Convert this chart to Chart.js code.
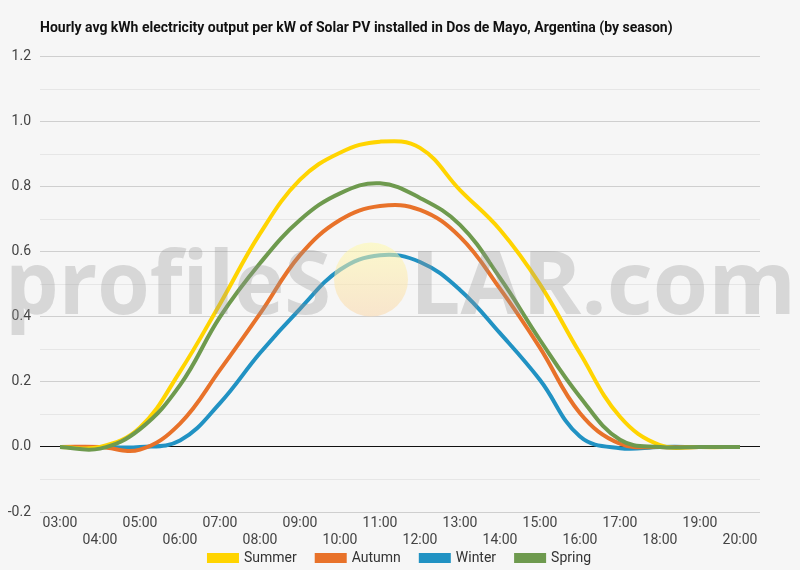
<!DOCTYPE html>
<html>
<head>
<meta charset="utf-8">
<script src="https://cdn.jsdelivr.net/npm/chart.js@4.4.1/dist/chart.umd.min.js"></script>
<style>
html,body{margin:0;padding:0;background:#f6f6f6;}
#wrap{width:800px;height:570px;position:relative;}
</style>
</head>
<body>
<div id="wrap"><canvas id="c" width="800" height="570"></canvas></div>
<script>
const hours = ["03:00","04:00","05:00","06:00","07:00","08:00","09:00","10:00","11:00","12:00","13:00","14:00","15:00","16:00","17:00","18:00","19:00","20:00"];
const summer = [0, 0, 0.06, 0.232, 0.44, 0.656, 0.822, 0.905, 0.939, 0.92, 0.79, 0.668, 0.5, 0.288, 0.093, 0.006, 0, 0];
const autumn = [0, 0, -0.008, 0.072, 0.237, 0.41, 0.59, 0.698, 0.741, 0.729, 0.646, 0.487, 0.305, 0.104, 0.01, 0, 0, 0];
const winter = [0, 0, 0, 0.02, 0.135, 0.289, 0.425, 0.545, 0.59, 0.569, 0.483, 0.35, 0.206, 0.032, -0.004, 0, 0, 0];
const spring = [0, -0.005, 0.055, 0.19, 0.40, 0.565, 0.698, 0.78, 0.811, 0.766, 0.683, 0.52, 0.329, 0.154, 0.022, 0, 0, 0];
const seriesNames = ["Summer","Autumn","Winter","Spring"];
const seriesColors = ["#FFD400","#E8722A","#2192C3","#6E9A4E"];
const titleText = "Hourly avg kWh electricity output per kW of Solar PV installed in Dos de Mayo, Argentina (by season)";

const bgPlugin = {
  id: 'bg',
  beforeDraw(chart) {
    const ctx = chart.ctx;
    ctx.save();
    ctx.fillStyle = '#f6f6f6';
    ctx.fillRect(0, 0, chart.width, chart.height);
    ctx.restore();
  }
};

// move the legend up a little so it sits just under the two rows of hour labels
const legendShift = {
  id: 'legendShift',
  afterLayout(chart) {
    const lg = chart.legend;
    if (lg) {
      lg.top -= 18;
      lg.bottom = chart.height;
      lg.height = lg.bottom - lg.top;
    }
  }
};

function fitText(ctx, text, x0, x1, base) {
  const w = ctx.measureText(text).width;
  const sx = (x1 - x0) / w;
  ctx.save();
  ctx.translate(x0, base);
  ctx.scale(sx, 1);
  ctx.textAlign = 'left';
  ctx.fillText(text, 0, 0);
  ctx.restore();
}

const watermark = {
  id: 'watermark',
  afterDatasetsDraw(chart) {
    const ctx = chart.ctx;
    const y = chart.scales.y;
    const base = y.getPixelForValue(0.41);
    ctx.save();
    ctx.font = '700 88px "Open Sans"';
    ctx.fillStyle = 'rgba(150,150,150,0.32)';
    ctx.textBaseline = 'alphabetic';
    fitText(ctx, 'profileS', 5, 331, base);
    fitText(ctx, 'LAR.com', 410, 796, base);
    const cx = 371, cy = y.getPixelForValue(0.515), r = 37;
    const g = ctx.createLinearGradient(0, cy - r, 0, cy + r);
    g.addColorStop(0, 'rgba(255,250,170,0.55)');
    g.addColorStop(1, 'rgba(250,215,170,0.55)');
    ctx.fillStyle = g;
    ctx.beginPath();
    ctx.arc(cx, cy, r, 0, Math.PI * 2);
    ctx.fill();
    ctx.restore();
  }
};

const datasets = [summer, autumn, winter, spring].map((d, i) => ({
  label: seriesNames[i],
  data: d,
  borderColor: seriesColors[i],
  backgroundColor: seriesColors[i],
  borderWidth: 4,
  pointRadius: 0,
  tension: 0.4,
  fill: false,
  yAxisID: 'y',
  order: i === 3 ? 0 : i + 1
}));

new Chart(document.getElementById('c'), {
  type: 'line',
  data: {
    labels: hours.map((h, i) => i % 2 === 0 ? [h] : ['', h]),
    datasets
  },
  plugins: [bgPlugin, legendShift, watermark],
  options: {
    responsive: false,
    animation: false,
    devicePixelRatio: 1,
    layout: { padding: { left: 0, right: 0, top: 10, bottom: 0 } },
    plugins: {
      title: {
        display: true,
        text: titleText,
        align: 'start',
        fullSize: false,
        color: '#111',
        font: { family: 'Roboto', weight: '700', size: 14, lineHeight: 1.2 },
        padding: { top: 10, bottom: 20 }
      },
      legend: {
        position: 'bottom',
        maxHeight: 21,
        labels: {
          boxWidth: 28,
          boxHeight: 6,
          color: '#333',
          font: { family: 'Roboto', size: 14 },
          padding: 20,
          sort: (a, b) => a.datasetIndex - b.datasetIndex
        }
      },
      tooltip: { enabled: false }
    },
    scales: {
      x: {
        offset: true,
        afterFit: s => { s.height = 37; },
        grid: { display: false, drawTicks: false },
        border: { display: false },
        ticks: {
          autoSkip: false,
          maxRotation: 0,
          color: '#444',
          font: { family: 'Roboto', size: 14, lineHeight: 1.2 },
          padding: 3
        }
      },
      y: {
        min: -0.2,
        max: 1.2,
        afterFit: s => { s.width = 40; },
        border: { display: false },
        grid: {
          drawTicks: false,
          color: ctx => {
            const v = Math.round(ctx.tick.value * 10);
            if (v === 0) return '#111';
            return v % 2 === 0 ? '#cfcfcf' : '#e6e6e6';
          },
          lineWidth: 1
        },
        ticks: {
          stepSize: 0.1,
          color: '#444',
          font: { family: 'Roboto', size: 14 },
          padding: 9,
          callback: v => {
            const n = Math.round(v * 10);
            return n % 2 === 0 ? (n / 10).toFixed(1) : '';
          }
        }
      },
      yr: {
        type: 'linear',
        position: 'right',
        display: true,
        min: 0,
        max: 1,
        afterFit: s => { s.width = 40; },
        border: { display: false },
        grid: { display: false, drawTicks: false },
        ticks: { display: false }
      }
    }
  }
});
</script>
</body>
</html>
